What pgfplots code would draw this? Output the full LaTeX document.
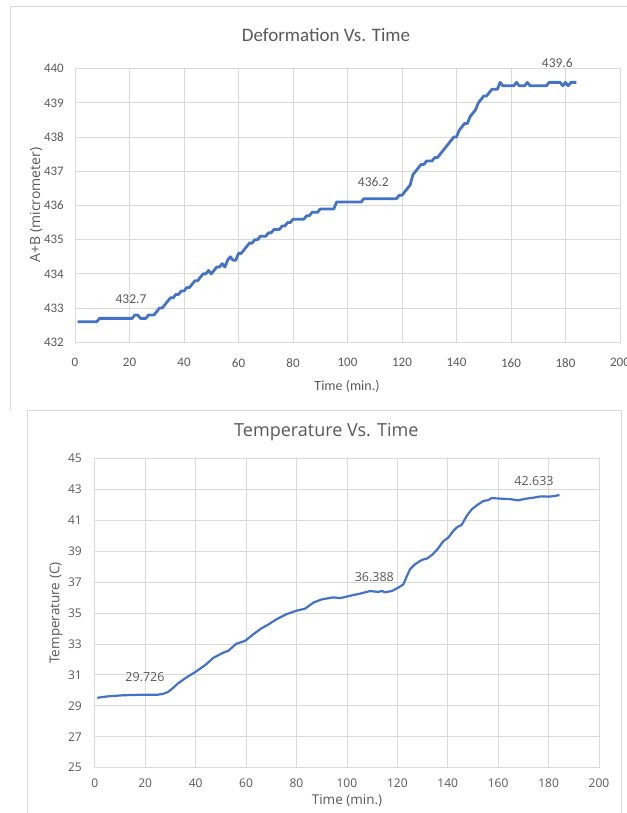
\documentclass[border=0pt]{standalone}
\usepackage{fontspec}
\setmainfont{Carlito}
\newfontfamily\osans{Open Sans}
\usepackage{pgfplots}
\pgfplotsset{compat=1.18}
\definecolor{linec}{HTML}{4472C4}
\definecolor{txtc}{HTML}{595959}
\definecolor{gridc}{HTML}{D9D9D9}
\newcommand{\fs}[1]{\fontsize{#1bp}{#1bp}\selectfont}
\begin{document}
\begin{tikzpicture}
\path[fill=white,use as bounding box] (0bp,0bp) rectangle (627bp,813bp);
% frames
\draw[gridc,line width=1bp] (10bp,403bp) -- (10bp,806bp) -- (627bp,806bp);
\draw[gridc,line width=1bp] (27bp,0bp) -- (27bp,402bp) -- (621bp,402bp) -- (621bp,0bp);
% ---------------- top chart
\begin{axis}[at={(75bp,470.7bp)},anchor=south west,scale only axis,
  width=545bp,height=273.6bp,
  xmin=0,xmax=200,ymin=432,ymax=440,
  xtick={0,20,...,200},ytick={432,433,...,440},
  grid=major,grid style={color=gridc,line width=0.8bp},
  axis line style={gridc,line width=0.8bp},
  major tick length=0pt,
  /pgf/number format/assume math mode=true,
  ticklabel style={font=\fs{13},text=txtc,inner sep=0pt},
  yticklabel style={anchor=east,xshift=-11bp},
  xticklabel style={anchor=north,yshift=-16bp},
  clip=false]
\addplot[linec,line width=2.8bp,line join=round] coordinates {
(1,432.6)(8,432.6)(9,432.7)(21,432.7)(22,432.8)(23,432.8)(24,432.7)(26,432.7)(27,432.8)(29,432.8)
(30,432.9)(31,433.0)(32,433.0)(33,433.1)(34,433.2)(35,433.3)(36,433.3)(37,433.4)(38,433.4)(39,433.5)
(40,433.5)(41,433.6)(42,433.6)(43,433.7)(44,433.8)(45,433.8)(46,433.9)(47,434.0)(48,434.0)(49,434.1)
(50,434.0)(51,434.1)(52,434.2)(53,434.2)(54,434.3)(55,434.2)(56,434.4)(57,434.5)(58,434.4)(59,434.4)
(60,434.6)(61,434.6)(62,434.7)(63,434.8)(64,434.9)(65,434.9)(66,435.0)(67,435.0)(68,435.1)(70,435.1)
(71,435.2)(72,435.2)(73,435.3)(75,435.3)(76,435.4)(77,435.4)(78,435.5)(79,435.5)(80,435.6)(84,435.6)
(85,435.7)(86,435.7)(87,435.8)(89,435.8)(90,435.9)(95,435.9)(96,436.1)(105,436.1)(106,436.2)(118,436.2)
(119,436.3)(120,436.3)(121,436.4)(122,436.5)(123,436.6)(124,436.9)(125,437.0)(126,437.1)(127,437.2)(128,437.2)
(129,437.3)(131,437.3)(132,437.4)(133,437.4)(134,437.5)(135,437.6)(136,437.7)(137,437.8)(138,437.9)(139,438.0)
(140,438.0)(141,438.2)(142,438.3)(143,438.4)(144,438.4)(145,438.6)(146,438.7)(147,438.8)(148,439.0)(149,439.1)
(150,439.2)(151,439.2)(152,439.3)(153,439.4)(155,439.4)(156,439.6)(157,439.5)(161,439.5)(162,439.6)(163,439.5)
(165,439.5)(166,439.6)(167,439.5)(173,439.5)(174,439.6)(178,439.6)(179,439.5)(180,439.6)(181,439.5)(182,439.6)
(184,439.6)
};
\end{axis}
\begin{scope}[every node/.style={text=txtc,inner sep=0pt}]
\node[font=\fs{19}] at (326bp,778bp) {Deformation Vs. Time};
\node[font=\osans\fs{14},rotate=90] at (36bp,608bp) {A+B (micrometer)};
\node[font=\fs{14}] at (347bp,427bp) {Time (min.)};
\node[font=\fs{13.5}] at (131bp,513.7bp) {432.7};
\node[font=\fs{13.5}] at (373.3bp,631.3bp) {436.2};
\node[font=\fs{13.5}] at (557.3bp,749.7bp) {439.6};
\end{scope}
% ---------------- bottom chart
\begin{axis}[at={(94.8bp,45.3bp)},anchor=south west,scale only axis,
  width=504.2bp,height=309.4bp,
  xmin=0,xmax=200,ymin=25,ymax=45,
  xtick={0,20,...,200},ytick={25,27,...,45},
  grid=major,grid style={color=gridc,line width=0.8bp},
  axis line style={gridc,line width=0.8bp},
  major tick length=0pt,
  /pgf/number format/assume math mode=true,
  ticklabel style={font=\osans\fs{12},text=txtc,inner sep=0pt},
  yticklabel style={anchor=east,xshift=-12.8bp},
  xticklabel style={anchor=north,yshift=-10.7bp},
  clip=false]
\addplot[linec,line width=2.2bp,line join=round] coordinates {
(1,29.52)(5,29.61)(11,29.68)(19,29.72)(25,29.72)(27,29.77)(29,29.89)(31,30.15)(33,30.45)(36.4,30.84)
(40,31.2)(44,31.66)(47,32.1)(51,32.44)(53,32.56)(56,33.0)(59.6,33.2)(63,33.64)(66,34.0)(69,34.27)
(72,34.59)(76,34.92)(80,35.15)(83.4,35.28)(86.7,35.67)(90,35.88)(94.6,36.01)(97.3,35.96)(101,36.1)(102.5,36.16)
(105.2,36.25)(109.2,36.42)(112.5,36.36)(113.8,36.43)(115.1,36.34)(117.8,36.42)(120.4,36.64)(122.4,36.85)(123.7,37.35)(125,37.82)
(127,38.15)(129.7,38.43)(131.9,38.53)(134,38.79)(135.9,39.12)(138.3,39.65)(140.2,39.87)(142.2,40.3)(143.8,40.56)(145.5,40.69)
(147.5,41.27)(149.5,41.7)(151.7,41.98)(154.1,42.24)(156.1,42.3)(157.4,42.43)(160.1,42.4)(164.7,42.36)(168,42.28)(170.6,42.38)
(173.9,42.45)(176.9,42.54)(179.9,42.52)(182.5,42.56)(184.3,42.63)
};
\end{axis}
\begin{scope}[every node/.style={text=txtc,inner sep=0pt}]
\node[font=\osans\fs{18}] at (326.4bp,381bp) {Temperature Vs. Time};
\node[font=\osans\fs{13.5},rotate=90] at (56bp,200bp) {Temperature (C)};
\node[font=\osans\fs{13.5}] at (347bp,12bp) {Time (min.)};
\node[font=\osans\fs{12.5}] at (145bp,135.7bp) {29.726};
\node[font=\osans\fs{12.5}] at (374.3bp,236.3bp) {36.388};
\node[font=\osans\fs{12.5}] at (534bp,332.3bp) {42.633};
\end{scope}
\end{tikzpicture}
\end{document}
